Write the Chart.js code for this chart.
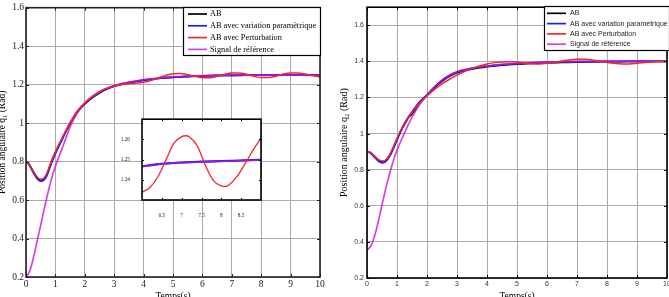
<!DOCTYPE html>
<html><head><meta charset="utf-8">
<script src="https://cdn.jsdelivr.net/npm/chart.js@4/dist/chart.umd.min.js"></script>
<style>
html,body{margin:0;padding:0;background:#fff;overflow:hidden;width:669px;height:297px;position:relative}
canvas{position:absolute;display:block}
#c1{left:0;top:0}
#c2{left:335px;top:0}
#c3{left:115px;top:112px}
</style></head>
<body>
<canvas id="c1" width="335" height="306"></canvas>
<canvas id="c2" width="345" height="306"></canvas>
<canvas id="c3" width="155" height="105"></canvas>
<script>
// ---------- data ----------
const seriesLabels = ['AB', 'AB avec variation paramètrique', 'AB avec Perturbation', 'Signal de référence'];
const xTicks = [0,1,2,3,4,5,6,7,8,9,10];
const xTickLabels = ['0','1','2','3','4','5','6','7','8','9','10'];
const yTicks = [0.2,0.4,0.6,0.8,1.0,1.2,1.4,1.6];
const yTickLabels = ['0.2','0.4','0.6','0.8','1','1.2','1.4','1.6'];

// left plot (q1)
const t1 = [0,0.1,0.2,0.3,0.4,0.5,0.6,0.7,0.8,0.9,1.0,1.1,1.2,1.3,1.4,1.5,1.75,2,2.25,2.5,2.75,3,3.5,4,4.5,5,5.5,6,6.5,7,7.5,8,8.5,9,10];
const ab1 = [0.800,0.787,0.760,0.733,0.712,0.703,0.708,0.730,0.770,0.810,0.845,0.877,0.908,0.940,0.970,0.998,1.058,1.100,1.132,1.157,1.177,1.192,1.210,1.223,1.232,1.238,1.242,1.2455,1.2475,1.2484,1.2489,1.2493,1.2496,1.2498,1.2500];
const var1 = [0.800,0.786,0.758,0.730,0.708,0.699,0.703,0.725,0.765,0.806,0.842,0.875,0.907,0.940,0.970,0.999,1.060,1.102,1.134,1.159,1.178,1.193,1.211,1.224,1.233,1.239,1.243,1.246,1.2478,1.2486,1.2490,1.2494,1.2496,1.2498,1.2500];
const ref1 = [0.200,0.222,0.268,0.332,0.402,0.470,0.540,0.608,0.672,0.727,0.775,0.817,0.857,0.898,0.940,0.980,1.055,1.102,1.136,1.162,1.181,1.195,1.213,1.226,1.234,1.240,1.244,1.2468,1.2480,1.2487,1.2491,1.2494,1.2497,1.2499,1.2500];
const t1p = [0,0.1,0.2,0.3,0.4,0.5,0.6,0.7,0.8,0.9,1.0,1.1,1.2,1.3,1.4,1.5,1.75,2,2.25,2.5,2.75,3,3.25,3.5,3.75,4,4.25,4.5,4.75,5,5.25,5.5,5.75,6,6.25,6.5,6.75,7,7.25,7.5,7.75,8,8.25,8.5,8.75,9,9.25,9.5,9.75,10];
const pert1 = [0.800,0.788,0.763,0.737,0.717,0.708,0.713,0.737,0.777,0.817,0.852,0.884,0.915,0.945,0.974,1.002,1.064,1.106,1.139,1.163,1.181,1.193,1.200,1.204,1.208,1.213,1.222,1.235,1.248,1.257,1.258,1.252,1.243,1.236,1.236,1.243,1.254,1.261,1.261,1.254,1.244,1.237,1.237,1.244,1.255,1.261,1.261,1.255,1.246,1.240];

// right plot (q2)
const t2 = t1;
const ab2 = [0.900,0.895,0.881,0.864,0.849,0.843,0.847,0.864,0.892,0.928,0.968,1.004,1.037,1.067,1.093,1.108,1.168,1.212,1.255,1.290,1.317,1.337,1.358,1.370,1.379,1.385,1.389,1.392,1.394,1.396,1.397,1.398,1.399,1.400,1.400];
const var2 = [0.900,0.894,0.879,0.861,0.845,0.838,0.842,0.860,0.889,0.926,0.967,1.004,1.038,1.069,1.096,1.120,1.174,1.215,1.259,1.296,1.323,1.342,1.362,1.374,1.382,1.388,1.392,1.395,1.397,1.398,1.399,1.400,1.400,1.400,1.400];
const ref2 = [0.355,0.370,0.405,0.460,0.530,0.605,0.678,0.745,0.805,0.860,0.907,0.948,0.985,1.022,1.057,1.090,1.160,1.213,1.258,1.294,1.321,1.341,1.362,1.374,1.383,1.389,1.393,1.396,1.398,1.399,1.400,1.400,1.400,1.400,1.400];
const t2p = t1p;
const pert2 = [0.900,0.897,0.885,0.868,0.854,0.848,0.852,0.869,0.898,0.935,0.974,1.010,1.043,1.072,1.097,1.119,1.168,1.208,1.244,1.275,1.301,1.324,1.344,1.360,1.374,1.385,1.393,1.397,1.398,1.396,1.391,1.387,1.386,1.389,1.395,1.402,1.408,1.411,1.411,1.408,1.401,1.394,1.389,1.386,1.386,1.389,1.393,1.397,1.400,1.402];

// inset (zoom of left plot)
const insetXTicks = [6.5,7,7.5,8,8.5];
const insetXTickLabels = ['6.5','7','7.5','8','8.5'];
const insetYTicks = [1.24,1.25,1.26];
const insetYTickLabels = ['1.24','1.25','1.26'];
const tIn = [6.0,6.5,7.0,7.5,8.0,8.5,9.0];
const abIn = [1.2466,1.2478,1.2485,1.2489,1.2492,1.2495,1.2498];
const varIn = [1.2467,1.2479,1.2486,1.2490,1.2493,1.2496,1.2499];
const refIn = [1.2464,1.2477,1.2484,1.2488,1.2491,1.2494,1.2497];
const tInP = [6.0,6.2,6.4,6.6,6.8,7.0,7.1,7.2,7.4,7.6,7.8,8.0,8.1,8.2,8.4,8.6,8.8,9.0];
const pertIn = [1.2338,1.2362,1.2415,1.2496,1.2580,1.2614,1.2618,1.2612,1.2566,1.2470,1.2396,1.2370,1.2367,1.2376,1.2418,1.2480,1.2547,1.2605];

// ---------- helpers ----------
const SERIF = "'Liberation Serif','Times New Roman',serif";
const SANS = "'Liberation Sans',Arial,sans-serif";
const COLORS = ['#000000', '#1c1cff', '#f22828', 'rgba(200,20,215,0.8)'];
const ORDERS = [4, 3, 1, 2];

function pts(t, v) { return t.map((x, i) => ({x: x, y: v[i]})); }
function ds(k, t, v, w) {
  return {label: seriesLabels[k], data: pts(t, v), borderColor: COLORS[k], backgroundColor: COLORS[k],
    borderWidth: w, pointRadius: 0, fill: false, cubicInterpolationMode: 'monotone', order: ORDERS[k]};
}
function axis(o) {
  return {
    type: 'linear', min: o.min, max: o.max,
    afterBuildTicks: s => { s.ticks = o.ticks.map(v => ({value: v})); },
    afterFit: s => { if (o.isX) s.height = o.size; else s.width = o.size; },
    ticks: {callback: (v, i) => o.labels[i], font: o.font, color: o.color || '#222', padding: o.pad,
      maxRotation: 0, minRotation: 0, autoSkip: false, includeBounds: false},
    grid: o.grid === false ? {display: false} : {color: '#aaaaaa', lineWidth: 1, drawTicks: false},
    border: {display: false},
    title: o.title ? {display: true, text: o.title, font: o.titleFont, color: '#000', padding: o.titlePad} : {display: false}
  };
}
function line(ctx, x1, y1, x2, y2) { ctx.beginPath(); ctx.moveTo(x1, y1); ctx.lineTo(x2, y2); ctx.stroke(); }

const framePlugin = {
  id: 'frame',
  beforeDraw(chart, args, o) {
    if (!o.fill) return;
    const a = chart.chartArea, ctx = chart.ctx;
    ctx.save(); ctx.fillStyle = o.fill; ctx.fillRect(a.left, a.top, a.right - a.left, a.bottom - a.top); ctx.restore();
  },
  afterDatasetsDraw(chart, args, o) {
    const a = chart.chartArea, ctx = chart.ctx, xs = chart.scales.x, ys = chart.scales.y;
    ctx.save();
    ctx.strokeStyle = o.color; ctx.lineWidth = 1;
    xs.ticks.forEach(t => { const p = Math.round(xs.getPixelForValue(t.value)) + 0.5;
      line(ctx, p, a.bottom, p, a.bottom - o.tick); line(ctx, p, a.top, p, a.top + o.tick); });
    ys.ticks.forEach(t => { const p = Math.round(ys.getPixelForValue(t.value)) + 0.5;
      line(ctx, a.left, p, a.left + o.tick, p); line(ctx, a.right, p, a.right - o.tick, p); });
    ctx.lineWidth = o.width;
    ctx.strokeRect(a.left, a.top, a.right - a.left, a.bottom - a.top);
    ctx.restore();
  }
};
const boxLegend = {
  id: 'boxLegend',
  afterDraw(chart, args, o) {
    if (!o.show) return;
    const ctx = chart.ctx;
    ctx.save();
    ctx.fillStyle = '#fff'; ctx.fillRect(o.x, o.y, o.w, o.h);
    ctx.strokeStyle = '#000'; ctx.lineWidth = 1.2; ctx.strokeRect(o.x + 0.5, o.y + 0.5, o.w, o.h);
    ctx.font = o.font; ctx.textBaseline = 'middle'; ctx.textAlign = 'left';
    chart.data.datasets.forEach((d, k) => {
      const y = o.y + o.first + k * o.step;
      ctx.strokeStyle = d.borderColor; ctx.lineWidth = 1.7;
      line(ctx, o.x + o.l1, y, o.x + o.l2, y);
      ctx.fillStyle = o.color; ctx.fillText(d.label, o.x + o.tx, y);
    });
    ctx.restore();
  }
};

// ---------- left chart ----------
new Chart(document.getElementById('c1'), {
  type: 'line',
  data: {datasets: [ds(0, t1, ab1, 1.7), ds(1, t1, var1, 1.8), ds(2, t1p, pert1, 1.5), ds(3, t1, ref1, 1.7)]},
  options: {
    responsive: false, animation: false, events: [],
    layout: {padding: {left: 0, right: 15, top: 7, bottom: 0}},
    scales: {
      x: axis({isX: true, min: 0, max: 10, ticks: xTicks, labels: xTickLabels, size: 29, pad: 2,
        font: {family: SERIF, size: 9.5}, title: 'Temps(s)', titleFont: {family: SERIF, size: 9.5}, titlePad: {top: 0, bottom: 4}}),
      y: axis({min: 0.2, max: 1.6, ticks: yTicks, labels: yTickLabels, size: 26, pad: 2,
        font: {family: SERIF, size: 9.5}, title: 'Position angulaire q\u2081 (Rad)', titleFont: {family: SERIF, size: 9.5}, titlePad: {top: -3, bottom: 0}})
    },
    plugins: {
      legend: {display: false}, tooltip: {enabled: false},
      frame: {color: '#222', width: 1.6, tick: 3},
      boxLegend: {show: true, x: 183, y: 7, w: 137, h: 48, first: 7, step: 11.8, l1: 5, l2: 24, tx: 27,
        font: '8.3px ' + SERIF, color: '#000'}
    }
  },
  plugins: [framePlugin, boxLegend]
});

// ---------- right chart ----------
new Chart(document.getElementById('c2'), {
  type: 'line',
  data: {datasets: [ds(0, t2, ab2, 1.7), ds(1, t2, var2, 1.8), ds(2, t2p, pert2, 1.5), ds(3, t2, ref2, 1.7)]},
  options: {
    responsive: false, animation: false, events: [],
    layout: {padding: {left: 0, right: 13, top: 6, bottom: 0}},
    scales: {
      x: axis({isX: true, min: 0, max: 10, ticks: xTicks, labels: xTickLabels, size: 28, pad: 2,
        font: {family: SANS, size: 7}, color: '#333', title: 'Temps(s)', titleFont: {family: SERIF, size: 9.5}, titlePad: {top: 0, bottom: 4}}),
      y: axis({min: 0.2, max: 1.7, ticks: yTicks, labels: yTickLabels, size: 32, pad: 3,
        font: {family: SANS, size: 7}, color: '#333', title: 'Position angulaire q\u2082 (Rad)', titleFont: {family: SERIF, size: 10}, titlePad: {top: 3.5, bottom: 0}})
    },
    plugins: {
      legend: {display: false}, tooltip: {enabled: false},
      frame: {color: '#000', width: 1.6, tick: 3},
      boxLegend: {show: true, x: 209, y: 6, w: 125, h: 44, first: 7.3, step: 10.3, l1: 3, l2: 22, tx: 26,
        font: '7px ' + SANS, color: '#222'}
    }
  },
  plugins: [framePlugin, boxLegend]
});

// ---------- inset ----------
new Chart(document.getElementById('c3'), {
  type: 'line',
  data: {datasets: [ds(0, tIn, abIn, 1.5), ds(1, tIn, varIn, 2), ds(2, tInP, pertIn, 1.3), ds(3, tIn, refIn, 1.5)]},
  options: {
    responsive: false, animation: false, events: [],
    layout: {padding: {left: 0, right: 9, top: 7, bottom: 0}},
    scales: {
      x: axis({isX: true, min: 6, max: 9, ticks: insetXTicks, labels: insetXTickLabels, size: 17, pad: 4, grid: false,
        font: {family: SERIF, size: 5.3}}),
      y: axis({min: 1.23, max: 1.27, ticks: insetYTicks, labels: insetYTickLabels, size: 27, pad: 4, grid: false,
        font: {family: SERIF, size: 5.3}})
    },
    plugins: {
      legend: {display: false}, tooltip: {enabled: false},
      frame: {color: '#000', width: 1.6, tick: 2, fill: '#fff'},
      boxLegend: {show: false}
    }
  },
  plugins: [framePlugin, boxLegend]
});
</script>
</body></html>
